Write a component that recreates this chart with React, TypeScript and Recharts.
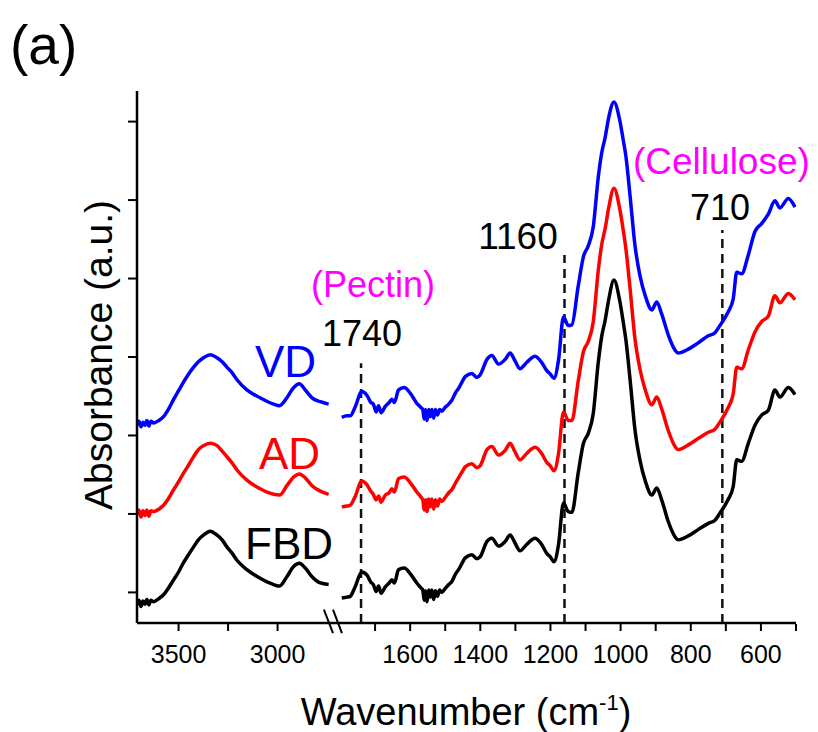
import { LineChart, Line, XAxis, YAxis, ReferenceLine } from "recharts";

// high-wavenumber segment (left of the axis break)
const highWavenumbers = [
  3710, 3700, 3690, 3680, 3670, 3660, 3650, 3640, 3626, 3600, 3576, 3550, 3525, 3500, 3475, 3450,
  3424, 3400, 3374, 3340, 3306, 3280, 3256, 3230, 3205, 3155, 3088, 3020, 2990, 2953, 2919, 2890,
  2860, 2826, 2784, 2742,
];
const fbdHigh = [
  -0.16, -0.1, -0.18, -0.11, -0.15, -0.09, -0.16, -0.1, -0.12, -0.08, -0.03, 0.06, 0.16, 0.26, 0.38, 0.48,
  0.58, 0.67, 0.73, 0.78, 0.73, 0.67, 0.58, 0.5, 0.41, 0.29, 0.18, 0.1, 0.08, 0.2, 0.33, 0.37,
  0.31, 0.2, 0.12, 0.1,
];
const adHigh = [
  0.99, 1.05, 0.96, 1.04, 0.98, 1.05, 0.97, 1.04, 1.03, 1.06, 1.11, 1.2, 1.31, 1.41, 1.52, 1.62,
  1.73, 1.82, 1.87, 1.9, 1.87, 1.8, 1.73, 1.65, 1.56, 1.43, 1.32, 1.25, 1.24, 1.36, 1.47, 1.51,
  1.46, 1.36, 1.29, 1.25,
];
const vdHigh = [
  2.13, 2.18, 2.11, 2.17, 2.13, 2.19, 2.12, 2.18, 2.16, 2.19, 2.24, 2.34, 2.46, 2.57, 2.68, 2.78,
  2.87, 2.94, 2.99, 3.03, 2.99, 2.94, 2.87, 2.8, 2.71, 2.58, 2.48, 2.4, 2.38, 2.48, 2.61, 2.66,
  2.58, 2.48, 2.43, 2.4,
];

// fingerprint segment (right of the break)
const lowWavenumbers = [
  1795, 1780, 1771, 1757, 1738, 1723, 1712, 1705, 1697, 1690,
  1683, 1671, 1660, 1652, 1645, 1633, 1617, 1600, 1581, 1570,
  1564, 1560, 1556, 1552, 1547, 1543, 1538, 1533, 1528, 1522,
  1516, 1510, 1500, 1490,
  1481, 1470, 1462, 1450, 1443, 1424, 1410, 1401, 1381, 1367,
  1348, 1329, 1315, 1301, 1287, 1268, 1244, 1225, 1211, 1200,
  1190, 1177, 1163, 1149, 1139, 1121, 1106, 1092, 1078, 1064,
  1054, 1044, 1034, 1019, 1003, 992, 985, 973, 959, 945,
  929, 911, 897, 883, 864, 845, 836, 807, 779, 750,
  731, 717, 694, 679, 669, 655, 636, 617, 598, 579,
  560, 546, 522, 503,
];
const fbdLow = [
  -0.07, -0.06, -0.05, 0.07, 0.26, 0.22, 0.13, 0.1, 0.01, 0.08,
  -0.01, 0.07, 0.12, 0.16, 0.12, 0.29, 0.31, 0.24, 0.12, 0.06,
  0.03, -0.1, 0.02, -0.12, 0.03, -0.06, 0.03, -0.09, 0.02, -0.05,
  0.03, 0.0, 0.05, 0.1,
  0.14, 0.24, 0.29, 0.39, 0.44, 0.48, 0.43, 0.45, 0.65, 0.69,
  0.59, 0.65, 0.73, 0.63, 0.53, 0.61, 0.69, 0.61, 0.5, 0.45,
  0.39, 0.61, 1.14, 1.03, 1.02, 1.52, 1.9, 2.03, 2.28, 2.92,
  3.26, 3.47, 3.73, 3.98, 3.73, 3.43, 3.22, 2.71, 2.07, 1.69,
  1.41, 1.24, 1.33, 1.18, 0.9, 0.71, 0.67, 0.72, 0.8, 0.88,
  0.92, 1.01, 1.18, 1.35, 1.69, 1.67, 1.9, 2.13, 2.26, 2.32,
  2.58, 2.49, 2.61, 2.52,
];
const adLow = [
  1.09, 1.1, 1.11, 1.22, 1.42, 1.37, 1.29, 1.25, 1.18, 1.23,
  1.15, 1.24, 1.27, 1.32, 1.28, 1.45, 1.47, 1.4, 1.28, 1.22,
  1.18, 1.05, 1.18, 1.03, 1.19, 1.09, 1.19, 1.06, 1.18, 1.1,
  1.19, 1.16, 1.21, 1.27,
  1.31, 1.4, 1.46, 1.55, 1.6, 1.64, 1.59, 1.61, 1.82, 1.86,
  1.75, 1.81, 1.9, 1.79, 1.69, 1.77, 1.85, 1.77, 1.66, 1.61,
  1.55, 1.77, 2.3, 2.19, 2.19, 2.69, 3.07, 3.2, 3.45, 4.09,
  4.43, 4.64, 4.9, 5.15, 4.9, 4.6, 4.38, 3.87, 3.23, 2.85,
  2.57, 2.39, 2.49, 2.34, 2.06, 1.86, 1.82, 1.88, 1.96, 2.04,
  2.08, 2.17, 2.35, 2.53, 2.87, 2.85, 3.09, 3.32, 3.45, 3.52,
  3.78, 3.69, 3.81, 3.73,
];
const vdLow = [
  2.23, 2.25, 2.25, 2.36, 2.56, 2.51, 2.42, 2.4, 2.3, 2.38,
  2.29, 2.37, 2.42, 2.46, 2.42, 2.58, 2.61, 2.54, 2.41, 2.36,
  2.33, 2.21, 2.33, 2.19, 2.33, 2.24, 2.33, 2.22, 2.33, 2.26,
  2.33, 2.31, 2.36, 2.4,
  2.45, 2.55, 2.6, 2.7, 2.75, 2.79, 2.74, 2.77, 2.97, 3.02,
  2.91, 2.97, 3.05, 2.95, 2.85, 2.93, 3.01, 2.93, 2.83, 2.78,
  2.73, 2.96, 3.51, 3.4, 3.41, 3.9, 4.28, 4.42, 4.66, 5.28,
  5.6, 5.8, 6.05, 6.25, 6.03, 5.75, 5.56, 5.05, 4.42, 4.04,
  3.77, 3.6, 3.7, 3.55, 3.28, 3.09, 3.05, 3.1, 3.18, 3.27,
  3.31, 3.4, 3.57, 3.74, 4.08, 4.06, 4.3, 4.6, 4.7, 4.82,
  4.99, 4.9, 5.02, 4.91,
];

const highTicks = [3500, 3250, 3000];
const highLabels = [3500, 3000];
const lowTicks = [1700, 1600, 1500, 1400, 1300, 1200, 1100, 1000, 900, 800, 700, 600, 500];
const lowLabels = [1600, 1400, 1200, 1000, 800, 600];
const yTicks = [0, 1, 2, 3, 4, 5, 6];

// dashed marker lines: wavenumber and how high the dash reaches
const markerWavenumbers = [1740, 1160, 710];
const markerTops = [2.92, 4.3, 4.62];

const series = [
  { key: "vd", color: "#0000ff" },
  { key: "ad", color: "#ff0000" },
  { key: "fbd", color: "#000000" },
];

const highRows = highWavenumbers.map((wn, i) => ({ wn, fbd: fbdHigh[i], ad: adHigh[i], vd: vdHigh[i] }));
const lowRows = lowWavenumbers.map((wn, i) => ({ wn, fbd: fbdLow[i], ad: adLow[i], vd: vdLow[i] }));

const FONT = "'Liberation Sans', Arial, Helvetica, sans-serif";
const tickStyle = { fontSize: 25, fill: "#000", fontFamily: FONT };

export default function App() {
  return (
    <div style={{ position: "relative", width: 818, height: 732, background: "#fff", fontFamily: FONT }}>
      <style>{"body{margin:0}"}</style>
      <LineChart width={818} height={732} margin={{ top: 91, right: 22, bottom: 107, left: 136 }}>
        <XAxis
          xAxisId="high"
          type="number"
          dataKey="wn"
          domain={[2720, 3710]}
          reversed
          allowDataOverflow
          padding={{ left: 0, right: 463 }}
          ticks={highTicks}
          interval={0}
          tickFormatter={(v) => (highLabels.includes(v) ? String(v) : "")}
          height={1}
          tickSize={8}
          tickMargin={14}
          tick={tickStyle}
          axisLine={{ stroke: "#000", strokeWidth: 2.5 }}
          tickLine={{ stroke: "#000", strokeWidth: 2 }}
        />
        <XAxis
          xAxisId="low"
          type="number"
          dataKey="wn"
          domain={[500, 1800]}
          reversed
          allowDataOverflow
          padding={{ left: 203, right: 0 }}
          ticks={lowTicks}
          interval={0}
          tickFormatter={(v) => (lowLabels.includes(v) ? String(v) : "")}
          height={1}
          tickSize={7}
          tickMargin={14}
          tick={tickStyle}
          axisLine={false}
          tickLine={{ stroke: "#000", strokeWidth: 2 }}
        />
        <YAxis
          type="number"
          domain={[-0.39, 6.39]}
          allowDataOverflow
          ticks={yTicks}
          interval={0}
          width={1}
          tickSize={9}
          tickFormatter={() => ""}
          axisLine={{ stroke: "#000", strokeWidth: 2.5 }}
          tickLine={{ stroke: "#000", strokeWidth: 2 }}
        />

        {markerWavenumbers.map((wn, i) => (
          <ReferenceLine
            key={wn}
            xAxisId="low"
            segment={[
              { x: wn, y: -0.39 },
              { x: wn, y: markerTops[i] },
            ]}
            stroke="#111"
            strokeWidth={2.5}
            strokeDasharray="9 6"
          />
        ))}

        {/* axis break marks */}
        <ReferenceLine
          xAxisId="high"
          ifOverflow="visible"
          segment={[
            { x: 2766, y: -0.22 },
            { x: 2720, y: -0.52 },
          ]}
          stroke="#000"
          strokeWidth={2}
        />
        <ReferenceLine
          xAxisId="high"
          ifOverflow="visible"
          segment={[
            { x: 2720, y: -0.22 },
            { x: 2675, y: -0.52 },
          ]}
          stroke="#000"
          strokeWidth={2}
        />

        {series.map((s) => (
          <Line
            key={"h-" + s.key}
            xAxisId="high"
            data={highRows}
            dataKey={s.key}
            type="monotone"
            stroke={s.color}
            strokeWidth={3.5}
            dot={false}
            isAnimationActive={false}
          />
        ))}
        {series.map((s) => (
          <Line
            key={"l-" + s.key}
            xAxisId="low"
            data={lowRows}
            dataKey={s.key}
            type="monotone"
            stroke={s.color}
            strokeWidth={3.5}
            dot={false}
            isAnimationActive={false}
          />
        ))}
      </LineChart>

      <svg
        width={818}
        height={732}
        style={{ position: "absolute", left: 0, top: 0, pointerEvents: "none" }}
        fontFamily={FONT}
      >
        <text x={10} y={64} fontSize={55}>(a)</text>
        <text transform="translate(112,355) rotate(-90)" textAnchor="middle" fontSize={39}>
          Absorbance (a.u.)
        </text>
        <text x={466} y={725} textAnchor="middle" fontSize={38}>
          Wavenumber (cm<tspan dy={-15} fontSize={22}>-1</tspan>
          <tspan dy={15}>)</tspan>
        </text>
        <text x={255} y={377} fontSize={44} fill="#0000ff">VD</text>
        <text x={259} y={469} fontSize={44} fill="#ff0000">AD</text>
        <text x={245} y={559} fontSize={44} fill="#000">FBD</text>
        <text x={373} y={297} textAnchor="middle" fontSize={36} fill="#ff00ff">(Pectin)</text>
        <text x={362} y={346} textAnchor="middle" fontSize={36}>1740</text>
        <text x={518} y={249} textAnchor="middle" fontSize={37}>1160</text>
        <text x={633} y={174} fontSize={37} fill="#ff00ff">(Cellulose)</text>
        <text x={720} y={220} textAnchor="middle" fontSize={36}>710</text>
      </svg>
    </div>
  );
}
